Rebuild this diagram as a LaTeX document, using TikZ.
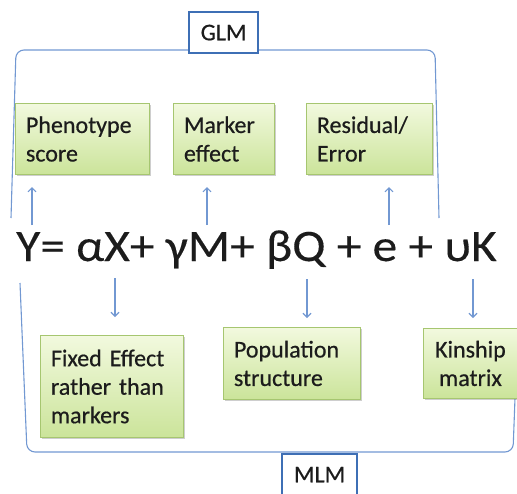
\documentclass[tikz,border=0pt]{standalone}
\usepackage{fontspec}
\setmainfont{Carlito}[FakeBold=0.5]
\newfontfamily\eqfont{Carlito}[FakeStretch=1.1,FakeBold=0.25]
\usetikzlibrary{arrows.meta,shadows}
\definecolor{lineblue}{HTML}{7298D2}
\definecolor{boxblue}{HTML}{3E6FB5}
\definecolor{gborder}{HTML}{A6C670}
\definecolor{gtop}{HTML}{F2F9DE}
\definecolor{gbot}{HTML}{CBE49A}
\definecolor{txt}{HTML}{1C1C1C}
\tikzset{
  gbox/.style={draw=gborder, line width=0.9pt, top color=gtop, bottom color=gbot,
    drop shadow={shadow xshift=1.2pt, shadow yshift=-2pt, opacity=0.35, fill=black!55},
    font=\fontsize{24}{28.5}\selectfont, text=txt, align=left, inner xsep=10.5pt, inner ysep=0pt,
    anchor=north west},
  tagbox/.style={draw=boxblue, line width=2.2pt, fill=white, font=\fontsize{24}{28}\selectfont,
    text=txt, inner sep=0pt, anchor=north west},
  bracket/.style={draw=lineblue, line width=1.1pt},
  arr/.style={draw=lineblue, line width=1.1pt, -{Straight Barb[length=4pt,width=8pt]}},
  eq/.style={font=\eqfont\fontsize{45}{50}\selectfont, text=txt, inner sep=0pt, anchor=base west}
}
\begin{document}
\begin{tikzpicture}[x=1pt,y=-1pt]
\useasboundingbox (0,0) rectangle (517,493);
% brackets
\draw[bracket, rounded corners=8pt] (11,218) -- (16,50) -- (435,50) -- (439,218);
\draw[bracket, rounded corners=8pt] (20,283) -- (27,452) -- (513,452) -- (519,290);
% tags
\node[tagbox, minimum width=69pt, minimum height=41pt] (glm) at (188,11) {GLM};
\node[tagbox, minimum width=75pt, minimum height=41pt] (mlm) at (281,453) {MLM};
% equation
\node[eq] (eqn) at (16,261) {Y= αX+ γM+ βQ + e + υK};
% top boxes
\node[gbox, text width=113pt, minimum height=71pt] (pheno) at (15,103) {Phenotype\\score};
\node[gbox, text width=80pt, minimum height=71pt] (marker) at (173,103) {Marker\\effect};
\node[gbox, text width=105pt, minimum height=71pt] (resid) at (306,103) {Residual/\\Error};
% bottom boxes
\node[gbox, text width=122pt, minimum height=102pt] (fixed) at (40,335) {Fixed Effect\\rather than\\markers};
\node[gbox, text width=116pt, minimum height=72pt] (pop) at (223,327) {Population\\structure};
\node[gbox, text width=76pt, inner xsep=9pt, align=center, minimum height=70pt] (kin) at (423,328) {Kinship\\matrix};
% arrow coordinates
\coordinate (u1a) at (32,225); \coordinate (u1b) at (32,187);
\coordinate (u2a) at (207,225); \coordinate (u2b) at (207,187);
\coordinate (u3a) at (389,225); \coordinate (u3b) at (389,187);
\coordinate (d1a) at (115,278); \coordinate (d1b) at (115,317);
\coordinate (d2a) at (307,279); \coordinate (d2b) at (307,318);
\coordinate (d3a) at (473,279); \coordinate (d3b) at (473,318);
\draw[arr] (u1a) -- (u1b);
\draw[arr] (u2a) -- (u2b);
\draw[arr] (u3a) -- (u3b);
\draw[arr] (d1a) -- (d1b);
\draw[arr] (d2a) -- (d2b);
\draw[arr] (d3a) -- (d3b);
\end{tikzpicture}
\end{document}
